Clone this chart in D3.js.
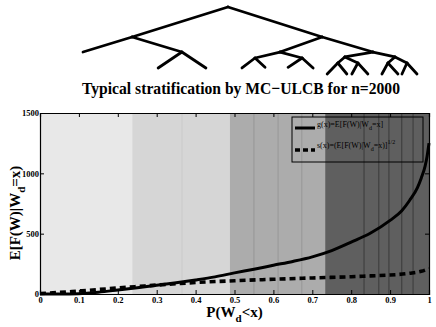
<!DOCTYPE html>
<html>
<head>
<meta charset="utf-8">
<script src="https://cdn.jsdelivr.net/npm/d3@7"></script>
<style>
  body { margin: 0; background: #fff; }
  svg { display: block; }
  text { font-family: "Liberation Serif", "Times New Roman", serif; }
</style>
</head>
<body>
<div id="chart"></div>
<script>
// stratum boundaries (background bands) and inner split lines
const bandEdges = [0, 0.237, 0.488, 0.733, 1];
const splitLines = [0.365, 0.55, 0.612, 0.673, 0.833, 0.871, 0.897, 0.93, 0.959];

// g(x) = E[F(W)|W_d=x]
const gX = [0, 0.05, 0.1, 0.15, 0.2, 0.25, 0.3, 0.35, 0.4, 0.45, 0.5, 0.55, 0.6, 0.65, 0.7, 0.75, 0.8, 0.85, 0.9, 0.93, 0.95, 0.97, 0.98, 0.99, 0.995, 1];
const gY = [0, 0, 3, 15, 33, 52, 72, 93, 116, 142, 175, 205, 238, 270, 308, 360, 430, 505, 610, 690, 775, 880, 960, 1060, 1140, 1250];

// s(x)
const sX = [0, 0.05, 0.1, 0.15, 0.2, 0.25, 0.3, 0.35, 0.4, 0.45, 0.5, 0.6, 0.7, 0.8, 0.85, 0.9, 0.95, 0.98, 1];
const sY = [4, 13, 25, 37, 50, 62, 74, 85, 95, 103, 110, 122, 133, 143, 150, 157, 172, 188, 210];

const xTicks = [0, 0.1, 0.2, 0.3, 0.4, 0.5, 0.6, 0.7, 0.8, 0.9, 1];
const xTickLabels = ["0", "0.1", "0.2", "0.3", "0.4", "0.5", "0.6", "0.7", "0.8", "0.9", "1"];
const yTicks = [0, 500, 1000, 1500];

// stratification tree: [id, parent, horizontal pos (0-100), depth pos (0-100)]
const treeNodes = [
  ["R", null, 43.4, 0],
  ["A", "R", 14.7, 44.8], ["B", "R", 71.6, 44.8],
  ["L1", "A", 0, 67.2], ["D", "A", 29.6, 67.2],
  ["L2", "D", 22.5, 91], ["L3", "D", 36.8, 91],
  ["E", "B", 59.0, 67.2], ["C", "B", 86.8, 67.2],
  ["E1", "E", 51.5, 76.1], ["E2", "E", 65.6, 76.1],
  ["E1a", "E1", 47.6, 91], ["E1b", "E1", 54.5, 90],
  ["E2a", "E2", 61.4, 90], ["E2b", "E2", 68.9, 91],
  ["G1", "C", 78.4, 74.6], ["G2", "C", 93.4, 74.6],
  ["H1", "G1", 76.3, 83.6], ["H2", "G1", 82.3, 83.6],
  ["H3", "G2", 91.3, 83.6], ["H4", "G2", 97.0, 83.6],
  ["H1a", "H1", 73.1, 100], ["H1b", "H1", 79.0, 100],
  ["H2a", "H2", 80.5, 100], ["H2b", "H2", 85.3, 100],
  ["H3a", "H3", 89.5, 100], ["H3b", "H3", 94.3, 100],
  ["H4a", "H4", 95.5, 100], ["H4b", "H4", 100, 100]
];

const W = 436, H = 327;
const margin = { top: 113, right: 7, bottom: 33, left: 40 };
const pw = W - margin.left - margin.right;
const ph = H - margin.top - margin.bottom;
const SERIF = "Liberation Serif";

const svg = d3.select("#chart").append("svg")
  .attr("width", W).attr("height", H);

// tree
const tx = d3.scaleLinear().domain([0, 100]).range([83, 417]);
const ty = d3.scaleLinear().domain([0, 100]).range([7, 74]);
const nodeById = new Map(treeNodes.map(d => [d[0], d]));
svg.append("g")
  .selectAll("line")
  .data(treeNodes.filter(d => d[1]))
  .enter().append("line")
  .attr("x1", d => tx(nodeById.get(d[1])[2]))
  .attr("y1", d => ty(nodeById.get(d[1])[3]))
  .attr("x2", d => tx(d[2]))
  .attr("y2", d => ty(d[3]))
  .attr("stroke", "#000")
  .attr("stroke-width", 2.8)
  .attr("stroke-linecap", "round");

// title
svg.append("text")
  .attr("x", 241).attr("y", 94)
  .attr("text-anchor", "middle")
  .attr("font-family", SERIF)
  .attr("font-weight", "bold")
  .attr("font-size", 17)
  .attr("textLength", 318)
  .attr("lengthAdjust", "spacingAndGlyphs")
  .text("Typical stratification by MC\u2212ULCB for n=2000");

const g = svg.append("g").attr("transform", `translate(${margin.left},${margin.top})`);

const x = d3.scaleLinear().domain([0, 1]).range([0, pw]);
const y = d3.scaleLinear().domain([0, 1500]).range([ph, 0]);

// bands
const bandColors = ["#e8e8e8", "#d6d6d6", "#acacac", "#5f5f5f"];
g.selectAll(".band")
  .data(d3.pairs(bandEdges))
  .enter().append("rect")
  .attr("x", d => x(d[0]))
  .attr("width", d => x(d[1]) - x(d[0]))
  .attr("y", 0).attr("height", ph)
  .attr("fill", (d, i) => bandColors[i]);

const lineColor = v => v < 0.488 ? "#cacaca" : v < 0.733 ? "#979797" : "#3a3a3a";
g.selectAll(".split")
  .data(splitLines)
  .enter().append("line")
  .attr("x1", d => x(d)).attr("x2", d => x(d))
  .attr("y1", 0).attr("y2", ph)
  .attr("stroke", lineColor)
  .attr("stroke-width", 1);

// axes (ticks inward, box)
const xAxis = d3.axisBottom(x).tickValues(xTicks).tickSize(-4).tickFormat((d, i) => xTickLabels[i]);
const gx = g.append("g").attr("transform", `translate(0,${ph})`).call(xAxis);
gx.selectAll("text").attr("dy", 0).attr("y", 9)
  .attr("font-family", SERIF).attr("font-weight", "bold").attr("font-size", 8.5).attr("fill", "#000");

const yAxis = d3.axisLeft(y).tickValues(yTicks).tickSize(-4).tickFormat(d3.format("d"));
const gy = g.append("g").call(yAxis);
gy.selectAll("text").attr("x", -1).attr("dy", "0.32em")
  .attr("font-family", SERIF).attr("font-weight", "bold").attr("font-size", 8.5).attr("fill", "#000");

g.append("g").call(d3.axisTop(x).tickValues(xTicks).tickSize(-4).tickFormat(""));
g.append("g").attr("transform", `translate(${pw},0)`).call(d3.axisRight(y).tickValues(yTicks).tickSize(-4).tickFormat(""));
g.selectAll(".domain").attr("stroke", "#000").attr("stroke-width", 1.2);
g.selectAll(".tick line").attr("stroke", "#000");

// curves
const line = d3.line().x(d => x(d[0])).y(d => y(d[1])).curve(d3.curveMonotoneX);
g.append("path")
  .datum(d3.zip(sX, sY))
  .attr("d", line)
  .attr("fill", "none").attr("stroke", "#000")
  .attr("stroke-width", 3.6).attr("stroke-dasharray", "6,4");
g.append("path")
  .datum(d3.zip(gX, gY))
  .attr("d", line)
  .attr("fill", "none").attr("stroke", "#000")
  .attr("stroke-width", 3);

// legend
const lg = svg.append("g");
lg.append("rect")
  .attr("x", 292).attr("y", 117).attr("width", 131).attr("height", 45)
  .attr("fill", "none").attr("stroke", "#000").attr("stroke-width", 1);
lg.append("line").attr("x1", 295).attr("x2", 315).attr("y1", 128).attr("y2", 128)
  .attr("stroke", "#000").attr("stroke-width", 3);
lg.append("line").attr("x1", 295).attr("x2", 315).attr("y1", 150).attr("y2", 150)
  .attr("stroke", "#000").attr("stroke-width", 3.6).attr("stroke-dasharray", "5,3");
const t1 = lg.append("text").attr("x", 317).attr("y", 127).attr("font-family", SERIF).attr("font-size", 8);
t1.append("tspan").text("g(x)=E[F(W)|W");
t1.append("tspan").attr("dy", 3).attr("font-size", 6).text("d");
t1.append("tspan").attr("dy", -3).text("=x]");
const t2 = lg.append("text").attr("x", 317).attr("y", 148).attr("font-family", SERIF).attr("font-size", 8);
t2.append("tspan").text("s(x)=(E[F(W)|W");
t2.append("tspan").attr("dy", 3).attr("font-size", 6).text("d");
t2.append("tspan").attr("dy", -3).text("=x)]");
t2.append("tspan").attr("dy", -4).attr("font-size", 6).text("1/2");

// axis labels
const xl = svg.append("text")
  .attr("x", margin.left + pw / 2).attr("y", 317)
  .attr("text-anchor", "middle").attr("font-family", SERIF).attr("font-weight", "bold").attr("font-size", 15);
xl.append("tspan").text("P(W");
xl.append("tspan").attr("dy", 5).attr("font-size", 11).text("d");
xl.append("tspan").attr("dy", -5).text("<x)");

const yl = svg.append("text")
  .attr("transform", `translate(20,213) rotate(-90)`)
  .attr("text-anchor", "middle").attr("font-family", SERIF).attr("font-weight", "bold").attr("font-size", 15);
yl.append("tspan").text("E[F(W)|W");
yl.append("tspan").attr("dy", 5).attr("font-size", 11).text("d");
yl.append("tspan").attr("dy", -5).text("=x)");
</script>
</body>
</html>
